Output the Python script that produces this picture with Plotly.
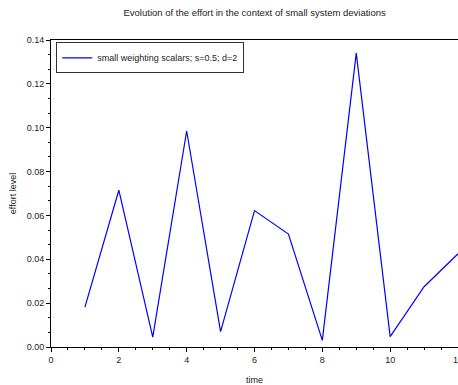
import plotly.graph_objects as go

time = [1, 2, 3, 4, 5, 6, 7, 8, 9, 10, 11, 12]
effort = [0.0182, 0.0715, 0.0045, 0.0985, 0.0070, 0.0622, 0.0515, 0.0030, 0.1340, 0.0047, 0.0275, 0.0425]
series_name = "small weighting scalars; s=0.5; d=2"

fig = go.Figure()
fig.add_trace(go.Scatter(x=time, y=effort, mode="lines", name=series_name,
                         line=dict(color="#0000ff", width=1.2), showlegend=True))

FAM = "Liberation Sans, Arial, sans-serif"
font = dict(family=FAM, size=9, color="#222222")
fig.update_layout(
    width=458, height=385,
    margin=dict(l=51, r=0, t=40, b=38, autoexpand=False),
    paper_bgcolor="white", plot_bgcolor="white",
    font=font,
    title=dict(text="Evolution of the effort in the context of small system deviations",
               x=0.556, xanchor="center", y=0.968, yanchor="middle", automargin=False,
               font=dict(family=FAM, size=9.5, color="#222222")),
    showlegend=True,
    legend=dict(x=0.013, y=0.992, xanchor="left", yanchor="top",
                bordercolor="#333333", borderwidth=1, bgcolor="white",
                font=dict(family=FAM, size=9, color="#222222"),
                itemwidth=30, tracegroupgap=0),
    xaxis=dict(range=[0, 12], tick0=0, dtick=2, showgrid=False, zeroline=False, automargin=False,
               showline=True, linecolor="black", linewidth=1, mirror=True,
               ticks="outside", ticklen=4, tickcolor="black", ticklabeloverflow="allow",
               tickfont=dict(family=FAM, size=9, color="#222222"),
               minor=dict(dtick=0.5, ticks="outside", ticklen=2, tickcolor="black", showgrid=False),
               title=dict(text="time", font=font, standoff=12)),
    yaxis=dict(range=[0, 0.14], tick0=0, dtick=0.02, tickformat=".2f", showgrid=False, zeroline=False,
               automargin=False,
               showline=True, linecolor="black", linewidth=1, mirror=True,
               ticks="outside", ticklen=4, tickcolor="black",
               tickfont=dict(family=FAM, size=9, color="#222222"),
               minor=dict(dtick=0.02 / 3, ticks="outside", ticklen=2, tickcolor="black", showgrid=False),
               title=dict(text="effort level", font=font, standoff=8)),
)

fig.write_html("out.html", config={"displayModeBar": False},
               post_script="document.body.style.margin='0';document.body.style.overflow='hidden';")
